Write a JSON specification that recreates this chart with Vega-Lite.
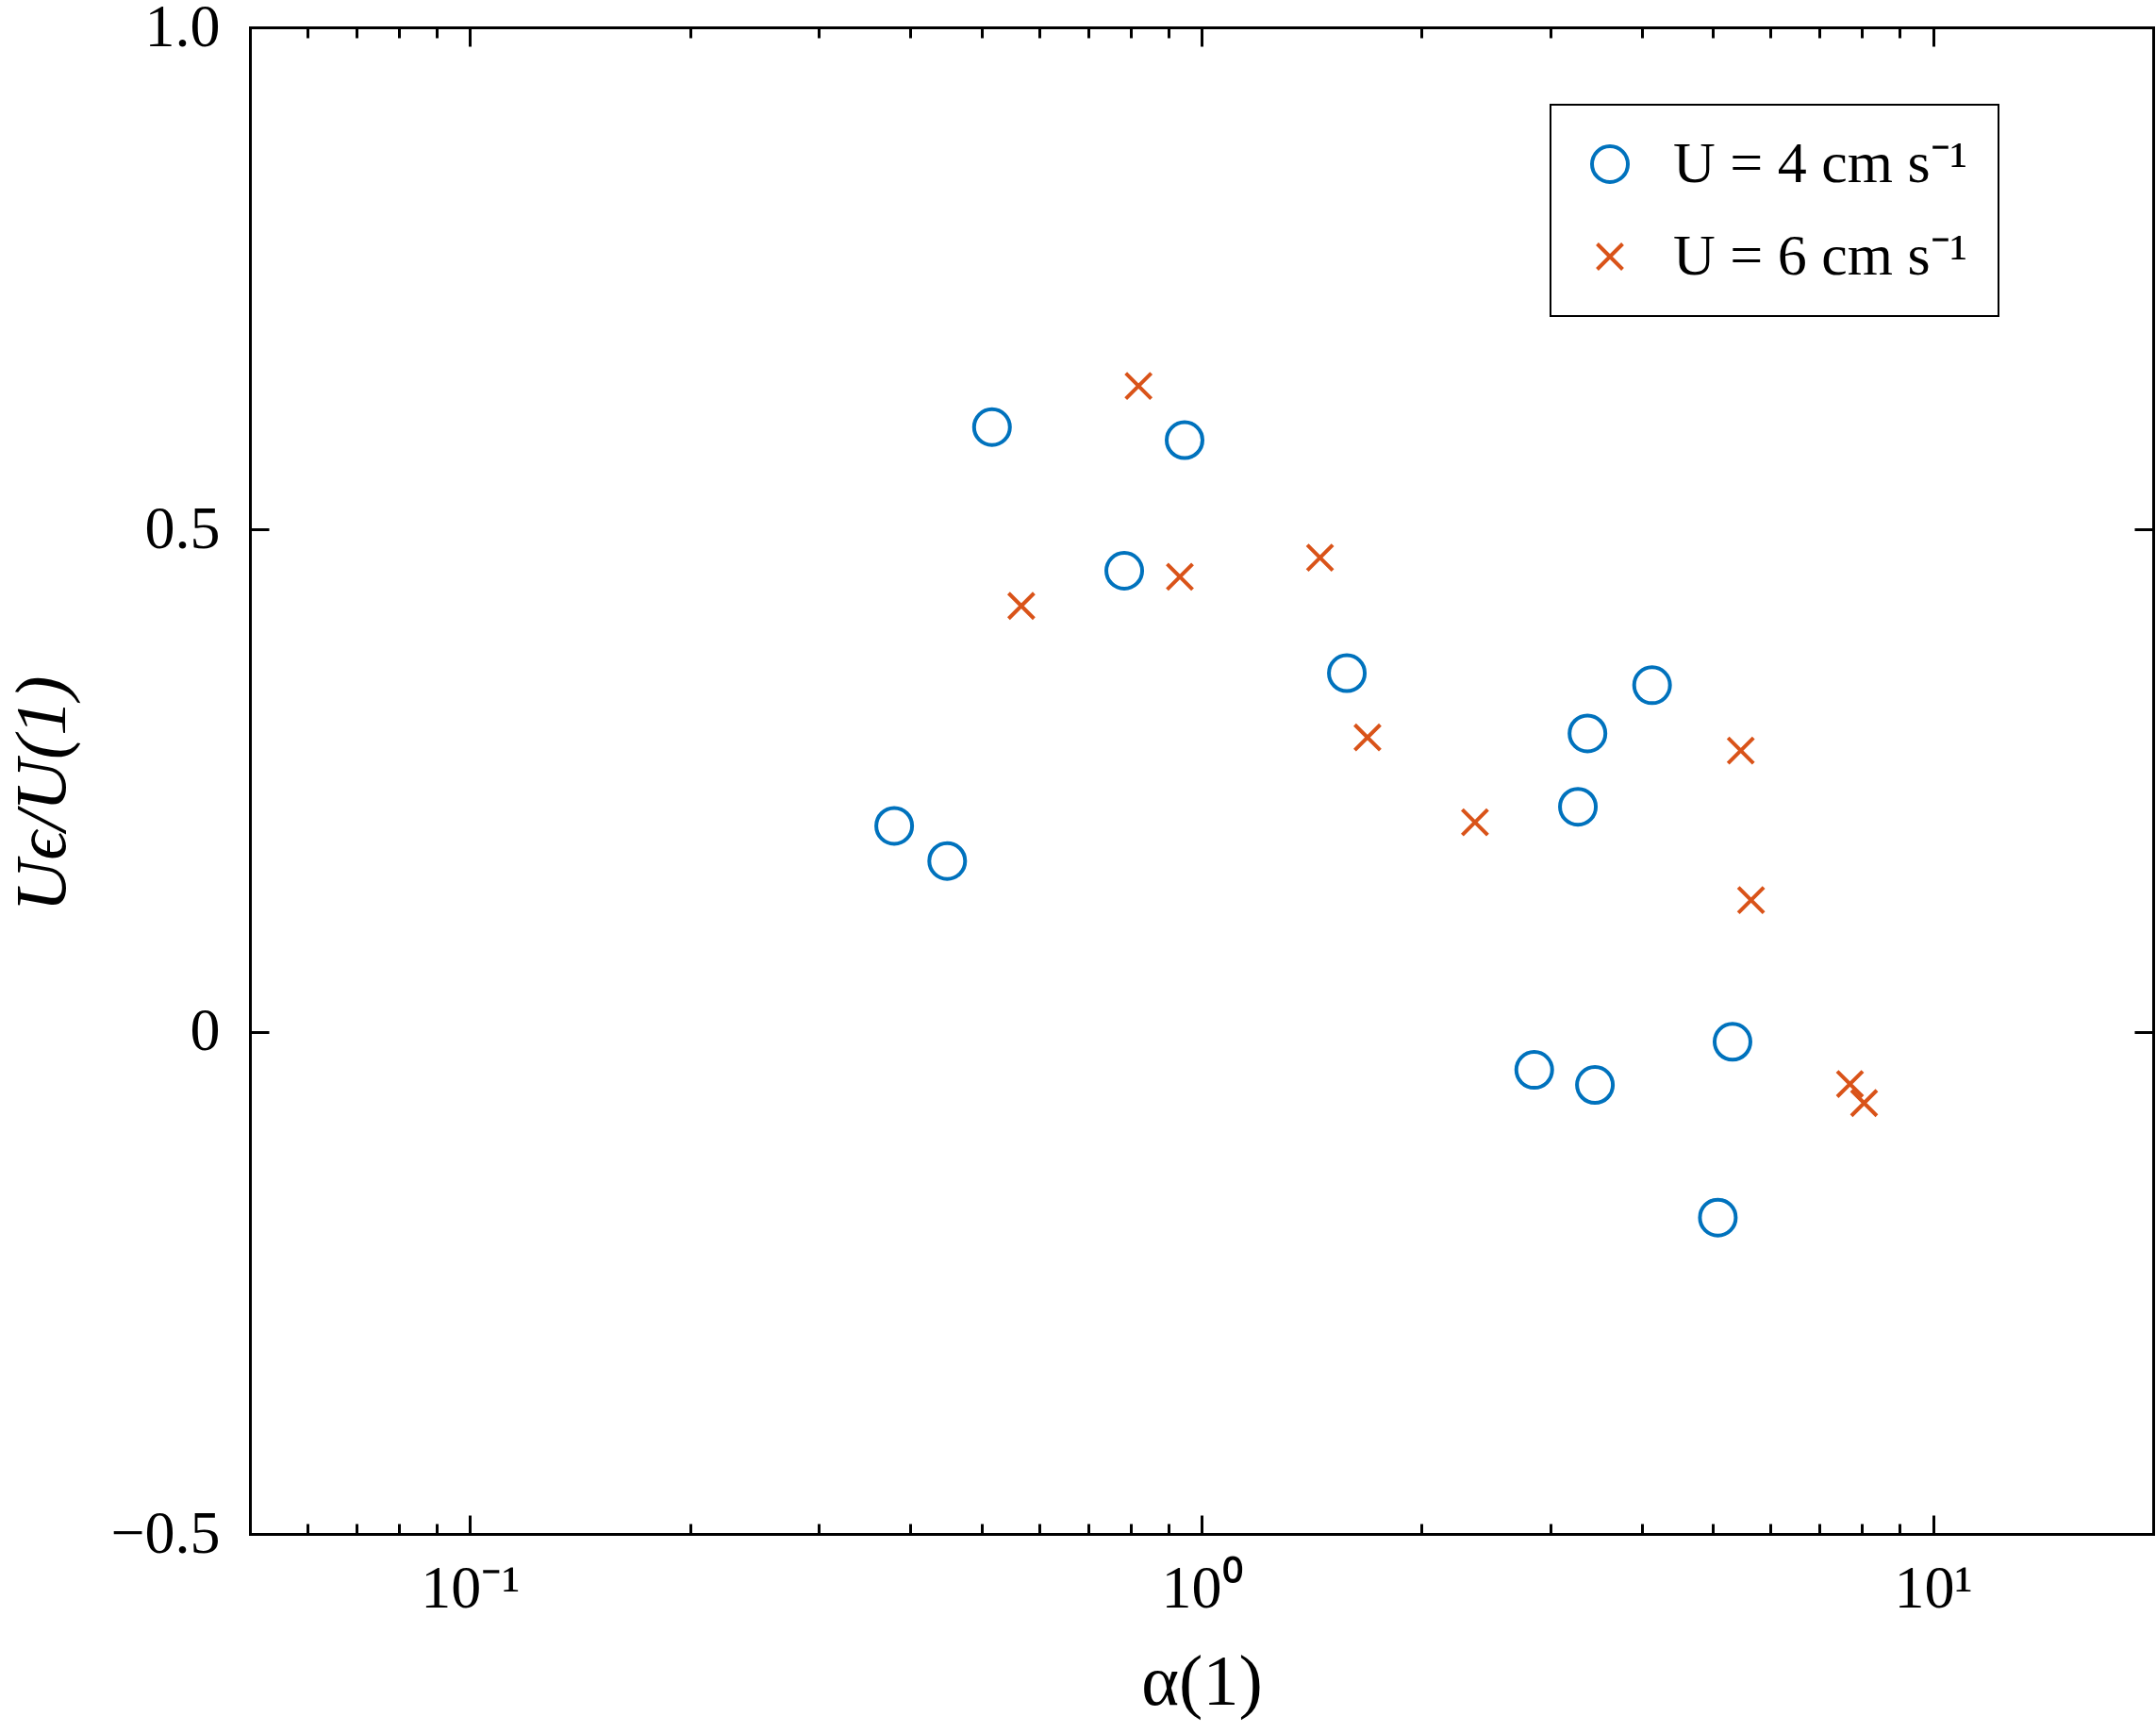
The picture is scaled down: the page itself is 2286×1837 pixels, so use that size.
{
  "$schema": "https://vega.github.io/schema/vega-lite/v6.json",
  "autosize": "none",
  "padding": {"left": 265, "top": 29, "right": 3, "bottom": 211},
  "width": 2018,
  "height": 1597,
  "background": "white",
  "config": {
    "view": {"stroke": null},
    "font": "Times New Roman",
    "axis": {
      "labelFont": "Times New Roman",
      "titleFont": "Times New Roman",
      "labelColor": "black",
      "titleColor": "black",
      "domainColor": "black",
      "tickColor": "black",
      "domainWidth": 3,
      "tickWidth": 3,
      "grid": false,
      "labelFontSize": 64,
      "titleFontSize": 76,
      "titleFontWeight": "normal",
      "domainCap": "square"
    },
    "legend": {
      "labelFont": "Times New Roman, serif",
      "labelFontSize": 62,
      "labelColor": "black",
      "labelLimit": 0,
      "strokeWidth": 2
    }
  },
  "data": {
    "values": [
      {"series": "U = 4 cm s\u207b\u00b9", "alpha": 0.380, "ratio": 0.205},
      {"series": "U = 4 cm s\u207b\u00b9", "alpha": 0.449, "ratio": 0.170},
      {"series": "U = 4 cm s\u207b\u00b9", "alpha": 0.517, "ratio": 0.602},
      {"series": "U = 4 cm s\u207b\u00b9", "alpha": 0.784, "ratio": 0.459},
      {"series": "U = 4 cm s\u207b\u00b9", "alpha": 0.948, "ratio": 0.589},
      {"series": "U = 4 cm s\u207b\u00b9", "alpha": 1.58, "ratio": 0.357},
      {"series": "U = 4 cm s\u207b\u00b9", "alpha": 2.85, "ratio": -0.038},
      {"series": "U = 4 cm s\u207b\u00b9", "alpha": 3.27, "ratio": 0.224},
      {"series": "U = 4 cm s\u207b\u00b9", "alpha": 3.37, "ratio": 0.297},
      {"series": "U = 4 cm s\u207b\u00b9", "alpha": 3.45, "ratio": -0.053},
      {"series": "U = 4 cm s\u207b\u00b9", "alpha": 4.13, "ratio": 0.345},
      {"series": "U = 4 cm s\u207b\u00b9", "alpha": 5.08, "ratio": -0.185},
      {"series": "U = 4 cm s\u207b\u00b9", "alpha": 5.32, "ratio": -0.010},
      {"series": "U = 6 cm s\u207b\u00b9", "alpha": 0.567, "ratio": 0.424},
      {"series": "U = 6 cm s\u207b\u00b9", "alpha": 0.820, "ratio": 0.643},
      {"series": "U = 6 cm s\u207b\u00b9", "alpha": 0.934, "ratio": 0.453},
      {"series": "U = 6 cm s\u207b\u00b9", "alpha": 1.452, "ratio": 0.472},
      {"series": "U = 6 cm s\u207b\u00b9", "alpha": 1.686, "ratio": 0.293},
      {"series": "U = 6 cm s\u207b\u00b9", "alpha": 2.365, "ratio": 0.2085},
      {"series": "U = 6 cm s\u207b\u00b9", "alpha": 5.46, "ratio": 0.280},
      {"series": "U = 6 cm s\u207b\u00b9", "alpha": 5.64, "ratio": 0.131},
      {"series": "U = 6 cm s\u207b\u00b9", "alpha": 7.70, "ratio": -0.052},
      {"series": "U = 6 cm s\u207b\u00b9", "alpha": 8.05, "ratio": -0.071}
    ]
  },
  "resolve": {"axis": {"x": "independent", "y": "independent"}},
  "layer": [
    {
      "mark": {"type": "point", "filled": false, "size": 1444, "strokeWidth": 4, "opacity": 1},
      "encoding": {
        "x": {
          "field": "alpha", "type": "quantitative",
          "scale": {"type": "log", "domain": [0.05, 20], "nice": false},
          "axis": {
            "orient": "bottom",
            "values": [0.1, 1, 10],
            "ticks": false,
            "domain": true,
            "labelPadding": 26,
            "labelExpr": "datum.value == 0.1 ? '10\u207b\u00b9' : (datum.value == 1 ? '10\u2070' : '10\u00b9')",
            "title": "\u03b1(1)",
            "titlePadding": 30
          }
        },
        "y": {
          "field": "ratio", "type": "quantitative",
          "scale": {"domain": [-0.5, 1], "nice": false, "zero": false},
          "axis": {
            "orient": "left",
            "values": [-0.5, 0, 0.5, 1],
            "ticks": false,
            "domain": true,
            "labelPadding": 32,
            "labelExpr": "datum.value == 1 ? '1.0' : (datum.value == 0.5 ? '0.5' : (datum.value == 0 ? '0' : '\u22120.5'))",
            "title": "U\u03f5/U(1)",
            "titleFontStyle": "italic",
            "titlePadding": 32,
            "titleY": 812
          }
        },
        "color": {
          "field": "series", "type": "nominal",
          "scale": {"domain": ["U = 4 cm s\u207b\u00b9", "U = 6 cm s\u207b\u00b9"], "range": ["#0072BD", "#D95319"]},
          "legend": {
            "title": null,
            "orient": "none",
            "legendX": 1379,
            "legendY": 82,
            "padding": 32,
            "rowPadding": 36,
            "labelOffset": 36,
            "labelLimit": 0,
            "labelFont": "Times New Roman, serif",
            "labelFontSize": 62,
            "symbolSize": 1444,
            "symbolStrokeWidth": 4,
            "strokeColor": "black",
            "fillColor": "white",
            "cornerRadius": 0
          }
        },
        "shape": {
          "field": "series", "type": "nominal",
          "scale": {"domain": ["U = 4 cm s\u207b\u00b9", "U = 6 cm s\u207b\u00b9"], "range": ["circle", "M-0.71,-0.71L0.71,0.71M-0.71,0.71L0.71,-0.71"]},
          "legend": {
            "title": null,
            "orient": "none",
            "legendX": 1379,
            "legendY": 82,
            "padding": 32,
            "rowPadding": 36,
            "labelOffset": 36,
            "labelLimit": 0,
            "labelFont": "Times New Roman, serif",
            "labelFontSize": 62,
            "symbolSize": 1444,
            "symbolStrokeWidth": 4,
            "strokeColor": "black",
            "fillColor": "white",
            "cornerRadius": 0
          }
        }
      }
    },
    {
      "mark": {"type": "point", "opacity": 0},
      "encoding": {
        "x": {"field": "alpha", "type": "quantitative",
          "axis": {"orient": "bottom", "values": [0.1, 1, 10], "labels": false, "domain": false, "tickSize": -20, "title": null}},
        "y": {"field": "ratio", "type": "quantitative",
          "axis": {"orient": "right", "values": [-0.5, 0, 0.5, 1], "labels": false, "domain": true, "tickSize": -20, "title": null}}
      }
    },
    {
      "mark": {"type": "point", "opacity": 0},
      "encoding": {
        "x": {"field": "alpha", "type": "quantitative",
          "axis": {"orient": "top", "values": [0.1, 1, 10], "labels": false, "domain": true, "tickSize": -20, "title": null}},
        "y": {"field": "ratio", "type": "quantitative",
          "axis": {"orient": "left", "values": [-0.5, 0, 0.5, 1], "labels": false, "domain": false, "tickSize": -20, "title": null}}
      }
    },
    {
      "mark": {"type": "point", "opacity": 0},
      "encoding": {
        "x": {"field": "alpha", "type": "quantitative",
          "axis": {"orient": "bottom", "values": [0.06, 0.07, 0.08, 0.09, 0.2, 0.3, 0.4, 0.5, 0.6, 0.7, 0.8, 0.9, 2, 3, 4, 5, 6, 7, 8, 9], "labels": false, "domain": false, "tickSize": -11, "title": null}},
        "y": {"field": "ratio", "type": "quantitative", "axis": null}
      }
    },
    {
      "mark": {"type": "point", "opacity": 0},
      "encoding": {
        "x": {"field": "alpha", "type": "quantitative",
          "axis": {"orient": "top", "values": [0.06, 0.07, 0.08, 0.09, 0.2, 0.3, 0.4, 0.5, 0.6, 0.7, 0.8, 0.9, 2, 3, 4, 5, 6, 7, 8, 9], "labels": false, "domain": false, "tickSize": -11, "title": null}},
        "y": {"field": "ratio", "type": "quantitative", "axis": null}
      }
    }
  ]
}
